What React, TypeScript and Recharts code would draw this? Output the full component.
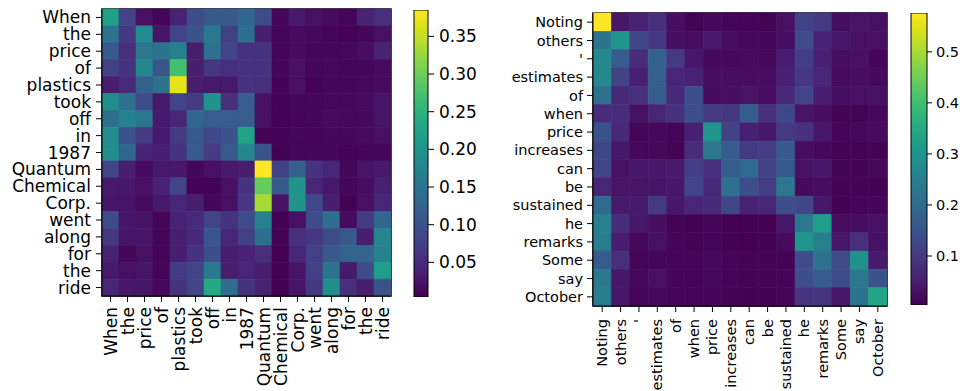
import React from 'react';
import { BarChart, Bar, XAxis, YAxis, ReferenceArea } from 'recharts';

const leftTokens = ['When', 'the', 'price', 'of', 'plastics', 'took', 'off', 'in', '1987', 'Quantum', 'Chemical', 'Corp.', 'went', 'along', 'for', 'the', 'ride'];

const leftWeights = [
  [0.22, 0.08, 0.02, 0.008, 0.04, 0.09, 0.11, 0.11, 0.13, 0.09, 0.01, 0.03, 0.02, 0.015, 0.008, 0.04, 0.055],
  [0.15, 0.065, 0.185, 0.025, 0.08, 0.1, 0.155, 0.075, 0.14, 0.035, 0.008, 0.015, 0.012, 0.008, 0.006, 0.01, 0.02],
  [0.11, 0.055, 0.155, 0.15, 0.17, 0.035, 0.145, 0.08, 0.06, 0.06, 0.008, 0.015, 0.01, 0.01, 0.012, 0.018, 0.04],
  [0.075, 0.06, 0.18, 0.105, 0.27, 0.035, 0.065, 0.055, 0.06, 0.06, 0.01, 0.02, 0.01, 0.012, 0.008, 0.01, 0.015],
  [0.035, 0.05, 0.12, 0.145, 0.37, 0.035, 0.03, 0.03, 0.06, 0.055, 0.006, 0.02, 0.006, 0.01, 0.01, 0.012, 0.015],
  [0.19, 0.145, 0.09, 0.03, 0.08, 0.07, 0.2, 0.055, 0.115, 0.02, 0.006, 0.01, 0.01, 0.012, 0.012, 0.015, 0.025],
  [0.14, 0.17, 0.155, 0.03, 0.045, 0.13, 0.115, 0.115, 0.115, 0.02, 0.006, 0.008, 0.01, 0.015, 0.012, 0.012, 0.025],
  [0.185, 0.1, 0.07, 0.03, 0.07, 0.11, 0.085, 0.1, 0.225, 0.006, 0.006, 0.01, 0.008, 0.012, 0.012, 0.015, 0.02],
  [0.19, 0.13, 0.04, 0.035, 0.06, 0.11, 0.07, 0.11, 0.18, 0.1, 0.005, 0.01, 0.01, 0.01, 0.006, 0.008, 0.01],
  [0.08, 0.035, 0.015, 0.03, 0.028, 0.01, 0.02, 0.03, 0.035, 0.385, 0.075, 0.12, 0.06, 0.045, 0.01, 0.025, 0.03],
  [0.03, 0.028, 0.02, 0.04, 0.08, 0.006, 0.006, 0.02, 0.06, 0.295, 0.11, 0.2, 0.045, 0.03, 0.01, 0.018, 0.038],
  [0.025, 0.025, 0.015, 0.03, 0.045, 0.035, 0.01, 0.02, 0.065, 0.335, 0.022, 0.2, 0.085, 0.035, 0.005, 0.02, 0.045],
  [0.09, 0.025, 0.022, 0.008, 0.04, 0.05, 0.08, 0.06, 0.09, 0.17, 0.005, 0.02, 0.09, 0.14, 0.015, 0.07, 0.13],
  [0.065, 0.025, 0.025, 0.01, 0.035, 0.048, 0.105, 0.045, 0.075, 0.14, 0.006, 0.055, 0.065, 0.09, 0.11, 0.035, 0.175],
  [0.04, 0.01, 0.02, 0.008, 0.035, 0.06, 0.095, 0.035, 0.04, 0.055, 0.004, 0.045, 0.075, 0.11, 0.125, 0.125, 0.17],
  [0.03, 0.02, 0.025, 0.008, 0.07, 0.08, 0.16, 0.035, 0.045, 0.035, 0.005, 0.025, 0.075, 0.15, 0.03, 0.09, 0.215],
  [0.045, 0.028, 0.025, 0.012, 0.06, 0.08, 0.235, 0.14, 0.06, 0.04, 0.004, 0.025, 0.065, 0.19, 0.055, 0.035, 0.1],
];

const rightTokens = ['Noting', 'others', "'", 'estimates', 'of', 'when', 'price', 'increases', 'can', 'be', 'sustained', 'he', 'remarks', 'Some', 'say', 'October'];

const rightWeights = [
  [0.576, 0.04, 0.06, 0.08, 0.025, 0.008, 0.015, 0.012, 0.012, 0.008, 0.03, 0.115, 0.1, 0.025, 0.035, 0.03],
  [0.22, 0.3, 0.125, 0.095, 0.025, 0.022, 0.045, 0.022, 0.015, 0.01, 0.025, 0.13, 0.06, 0.04, 0.03, 0.028],
  [0.27, 0.17, 0.075, 0.18, 0.1, 0.04, 0.015, 0.015, 0.02, 0.015, 0.05, 0.105, 0.055, 0.025, 0.028, 0.01],
  [0.27, 0.115, 0.055, 0.175, 0.065, 0.06, 0.022, 0.025, 0.022, 0.022, 0.055, 0.095, 0.065, 0.02, 0.025, 0.018],
  [0.215, 0.07, 0.08, 0.17, 0.07, 0.14, 0.02, 0.025, 0.035, 0.022, 0.07, 0.12, 0.05, 0.025, 0.028, 0.03],
  [0.075, 0.075, 0.03, 0.065, 0.085, 0.14, 0.1, 0.095, 0.17, 0.08, 0.125, 0.035, 0.022, 0.008, 0.008, 0.015],
  [0.15, 0.07, 0.01, 0.015, 0.01, 0.055, 0.3, 0.115, 0.055, 0.04, 0.1, 0.085, 0.04, 0.01, 0.015, 0.02],
  [0.125, 0.04, 0.015, 0.015, 0.008, 0.075, 0.23, 0.17, 0.1, 0.105, 0.165, 0.022, 0.015, 0.008, 0.008, 0.008],
  [0.12, 0.03, 0.04, 0.04, 0.045, 0.105, 0.08, 0.17, 0.2, 0.115, 0.165, 0.03, 0.04, 0.008, 0.008, 0.015],
  [0.065, 0.035, 0.035, 0.035, 0.04, 0.12, 0.07, 0.215, 0.14, 0.105, 0.23, 0.018, 0.022, 0.008, 0.008, 0.006],
  [0.2, 0.045, 0.045, 0.1, 0.04, 0.065, 0.07, 0.125, 0.06, 0.065, 0.14, 0.125, 0.04, 0.006, 0.01, 0.01],
  [0.25, 0.075, 0.04, 0.025, 0.008, 0.005, 0.01, 0.005, 0.005, 0.004, 0.04, 0.23, 0.32, 0.022, 0.022, 0.03],
  [0.24, 0.05, 0.015, 0.03, 0.01, 0.008, 0.012, 0.005, 0.004, 0.005, 0.02, 0.3, 0.25, 0.04, 0.08, 0.03],
  [0.17, 0.08, 0.012, 0.012, 0.01, 0.01, 0.015, 0.01, 0.008, 0.008, 0.008, 0.135, 0.215, 0.135, 0.29, 0.045],
  [0.23, 0.04, 0.015, 0.03, 0.012, 0.012, 0.015, 0.01, 0.008, 0.008, 0.01, 0.14, 0.17, 0.13, 0.23, 0.15],
  [0.24, 0.04, 0.01, 0.015, 0.01, 0.012, 0.01, 0.008, 0.005, 0.005, 0.012, 0.09, 0.09, 0.04, 0.22, 0.34],
];

const leftColorbarTicks = [0.05, 0.1, 0.15, 0.2, 0.25, 0.3, 0.35];
const rightColorbarTicks = [0.1, 0.2, 0.3, 0.4, 0.5];

const VIRIDIS = [
  '#440154', '#471365', '#482475', '#463480', '#414487', '#3b528b', '#355f8d',
  '#2f6c8e', '#2a788e', '#25848e', '#21918c', '#1e9c89', '#22a884', '#2fb47c',
  '#44bf70', '#5ec962', '#7ad151', '#9bd93c', '#bddf26', '#dfe318', '#fde725',
];

const FONT = 'DejaVu Sans, sans-serif';

function hexToRgb(h: string) {
  const n = parseInt(h.slice(1), 16);
  return [(n >> 16) & 255, (n >> 8) & 255, n & 255];
}

function viridis(t: number) {
  const tt = Math.max(0, Math.min(1, t)) * (VIRIDIS.length - 1);
  const i = Math.min(VIRIDIS.length - 2, Math.floor(tt));
  const f = tt - i;
  const a = hexToRgb(VIRIDIS[i]);
  const b = hexToRgb(VIRIDIS[i + 1]);
  const c = a.map((v, k) => Math.round(v + (b[k] - v) * f));
  return `rgb(${c[0]},${c[1]},${c[2]})`;
}

function extent(m: number[][]) {
  const flat = m.flat();
  return [Math.min(...flat), Math.max(...flat)];
}

type Margin = { top: number; right: number; bottom: number; left: number };

type HeatProps = {
  tokens: string[];
  weights: number[][];
  width: number;
  height: number;
  margin: Margin;
  yWidth: number;
  xHeight: number;
  fontSize: number;
  tickSize: number;
  yTickMargin: number;
  xTickMargin: number;
};

function Heatmap({ tokens, weights, width, height, margin, yWidth, xHeight, fontSize, tickSize, yTickMargin, xTickMargin }: HeatProps) {
  const n = tokens.length;
  const [vmin, vmax] = extent(weights);
  const data = tokens.map((_, i) => {
    const row: any = { idx: i };
    for (let j = 0; j < n; j++) row['c' + j] = 1;
    return row;
  });
  const plotHeight = height - margin.top - margin.bottom - xHeight;
  const band = plotHeight / n;
  const xTicks = tokens.map((_, j) => j + 0.5);
  const XTick = (props: any) => {
    const { x, y, payload } = props;
    return (
      <text
        x={x}
        y={y}
        transform={`rotate(-90 ${x} ${y})`}
        textAnchor="end"
        dominantBaseline="central"
        fontSize={fontSize}
        fontFamily={FONT}
        fill="#000"
      >
        {tokens[Math.floor(payload.value)]}
      </text>
    );
  };
  const makeShape = (j: number) => (props: any) => {
    const { x, y, width: w, index } = props;
    const c = viridis((weights[index][j] - vmin) / (vmax - vmin));
    return <rect x={x} y={y} width={w} height={band} fill={c} stroke={c} strokeWidth={0.6} />;
  };
  return (
    <BarChart
      width={width}
      height={height}
      data={data}
      layout="vertical"
      margin={margin}
      barCategoryGap={0}
      barGap={0}
    >
      <XAxis
        type="number"
        domain={[0, n]}
        ticks={xTicks}
        interval={0}
        height={xHeight}
        tick={<XTick />}
        tickSize={tickSize}
        tickMargin={xTickMargin}
        tickLine={{ stroke: '#000', strokeWidth: 1 }}
        axisLine={{ stroke: '#000', strokeWidth: 1 }}
        allowDataOverflow
      />
      <YAxis
        type="category"
        dataKey="idx"
        width={yWidth}
        interval={0}
        tickFormatter={(v: any) => tokens[Number(v)]}
        tick={{ fill: '#000', fontSize, fontFamily: FONT }}
        tickSize={tickSize}
        tickMargin={yTickMargin}
        tickLine={{ stroke: '#000', strokeWidth: 1 }}
        axisLine={{ stroke: '#000', strokeWidth: 1 }}
      />
      {tokens.map((_, j) => (
        <Bar key={j} dataKey={'c' + j} stackId="s" isAnimationActive={false} shape={makeShape(j)} />
      ))}
      <ReferenceArea x1={0} x2={n} fill="none" stroke="#000" strokeWidth={1.5} fillOpacity={0} ifOverflow="visible" />
    </BarChart>
  );
}

type CbProps = {
  weights: number[][];
  ticks: number[];
  decimals: number;
  gradId: string;
  width: number;
  height: number;
  margin: Margin;
  yWidth: number;
  fontSize: number;
  tickSize: number;
  tickMargin: number;
};

function Colorbar({ weights, ticks, decimals, gradId, width, height, margin, yWidth, fontSize, tickSize, tickMargin }: CbProps) {
  const [vmin, vmax] = extent(weights);
  const data = [{ name: 'cb', range: [vmin, vmax] }];
  return (
    <BarChart width={width} height={height} data={data} margin={margin} barCategoryGap={0} barGap={0}>
      <defs>
        <linearGradient id={gradId} x1="0" y1="1" x2="0" y2="0">
          {VIRIDIS.map((c, i) => (
            <stop key={i} offset={i / (VIRIDIS.length - 1)} stopColor={c} />
          ))}
        </linearGradient>
      </defs>
      <XAxis dataKey="name" type="category" hide />
      <YAxis
        type="number"
        orientation="right"
        domain={[vmin, vmax]}
        ticks={ticks}
        interval={0}
        width={yWidth}
        tickFormatter={(v: number) => v.toFixed(decimals)}
        tick={{ fill: '#000', fontSize, fontFamily: FONT, textAnchor: 'start' }}
        tickSize={tickSize}
        tickMargin={tickMargin}
        tickLine={{ stroke: '#000', strokeWidth: 1 }}
        axisLine={false}
        allowDataOverflow
      />
      <Bar dataKey="range" fill={`url(#${gradId})`} stroke="#000" strokeWidth={1} isAnimationActive={false} />
    </BarChart>
  );
}

export default function App() {
  return (
    <div style={{ position: 'absolute', left: 0, top: 0, width: 965, height: 391, background: '#fff', overflow: 'hidden' }}>
      <div style={{ position: 'absolute', left: 0, top: 0 }}>
        <Heatmap
          tokens={leftTokens}
          weights={leftWeights}
          width={400}
          height={391}
          margin={{ top: 9, right: 9, bottom: 0, left: 0 }}
          yWidth={102}
          xHeight={95}
          fontSize={17}
          tickSize={6}
          yTickMargin={5}
          xTickMargin={5}
        />
      </div>
      <div style={{ position: 'absolute', left: 400, top: 0 }}>
        <Colorbar
          weights={leftWeights}
          ticks={leftColorbarTicks}
          decimals={2}
          gradId="vgLeft"
          width={85}
          height={391}
          margin={{ top: 10, right: 0, bottom: 94, left: 14 }}
          yWidth={57}
          fontSize={17}
          tickSize={6}
          tickMargin={5}
        />
      </div>
      <div style={{ position: 'absolute', left: 480, top: 0 }}>
        <Heatmap
          tokens={rightTokens}
          weights={rightWeights}
          width={420}
          height={391}
          margin={{ top: 13, right: 13, bottom: 0, left: 0 }}
          yWidth={113}
          xHeight={85}
          fontSize={14.5}
          tickSize={6}
          yTickMargin={4}
          xTickMargin={7}
        />
      </div>
      <div style={{ position: 'absolute', left: 900, top: 0 }}>
        <Colorbar
          weights={rightWeights}
          ticks={rightColorbarTicks}
          decimals={1}
          gradId="vgRight"
          width={65}
          height={391}
          margin={{ top: 13, right: 0, bottom: 86, left: 11 }}
          yWidth={38}
          fontSize={14.5}
          tickSize={5}
          tickMargin={4}
        />
      </div>
    </div>
  );
}
